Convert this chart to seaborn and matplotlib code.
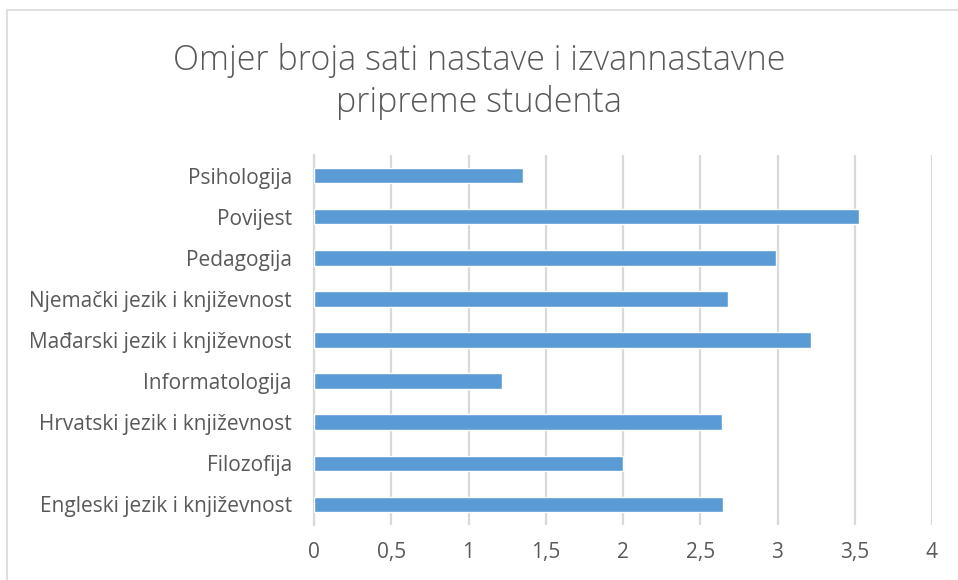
import matplotlib
matplotlib.use("Agg")
import matplotlib.pyplot as plt
import matplotlib.patches as mpatches
from matplotlib.ticker import FuncFormatter
import seaborn as sns
import pandas as pd

# podaci
studiji = ["Psihologija", "Povijest", "Pedagogija", "Njemački jezik i književnost",
           "Mađarski jezik i književnost", "Informatologija", "Hrvatski jezik i književnost",
           "Filozofija", "Engleski jezik i književnost"]
omjer = [1.35, 3.53, 2.99, 2.68, 3.22, 1.22, 2.64, 2.00, 2.65]
x_ticks = [0, 0.5, 1, 1.5, 2, 2.5, 3, 3.5, 4]

df = pd.DataFrame({"studij": studiji, "omjer": omjer})

sns.set_theme(style="white")
plt.rcParams["font.family"] = ["Open Sans", "DejaVu Sans"]

siva = "#595959"
fig = plt.figure(figsize=(9.58, 5.8), dpi=100)
ax = fig.add_axes([314 / 958, 1 - 525 / 580, (932 - 314) / 958, (525 - 155) / 580])

sns.barplot(data=df, x="omjer", y="studij", orient="h", color="#5B9BD5",
            width=0.38, saturation=1, ax=ax, zorder=3)

ax.set_xlim(0, 4)
ax.set_xticks(x_ticks)
ax.xaxis.set_major_formatter(FuncFormatter(lambda v, p: f"{v:g}".replace(".", ",")))
ax.grid(axis="x", color="#D9D9D9", linewidth=1.6, zorder=0)
ax.grid(axis="y", visible=False)
for s in ["top", "right", "bottom"]:
    ax.spines[s].set_visible(False)
ax.spines["left"].set_color("#D9D9D9")
ax.spines["left"].set_linewidth(1.6)
ax.set_xlabel("")
ax.set_ylabel("")
ax.tick_params(axis="x", length=0, pad=12, labelsize=15, labelcolor=siva)
ax.tick_params(axis="y", length=0, pad=16, labelsize=15, labelcolor=siva)

fig.text(0.5, 1 - 61 / 580, "Omjer broja sati nastave i izvannastavne", ha="center", va="center",
         fontsize=24.5, color=siva, fontweight="light")
fig.text(0.5, 1 - 102 / 580, "pripreme studenta", ha="center", va="center",
         fontsize=24.5, color=siva, fontweight="light")

# okvir grafikona
fig.patches.append(mpatches.Rectangle((7 / 958, -0.1), 1.2, 1.1 - 10 / 580, transform=fig.transFigure,
                                      fill=False, edgecolor="#D9D9D9", linewidth=1.2))

fig.savefig("out.png", dpi=100)
